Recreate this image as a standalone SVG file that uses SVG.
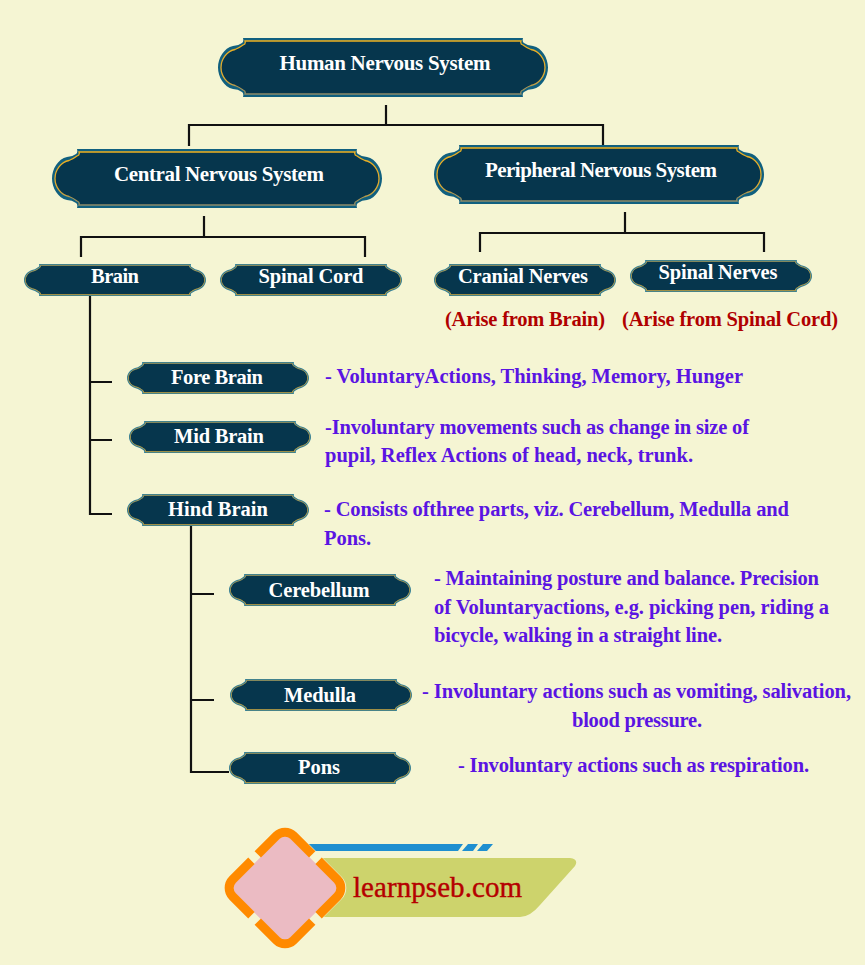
<svg xmlns="http://www.w3.org/2000/svg" width="865" height="965" viewBox="0 0 865 965">
<style>
text{font-family:"Liberation Serif",serif;font-weight:700}
.n{fill:#fff;font-size:21px;text-anchor:middle}
.s{fill:#fff;font-size:20.5px;text-anchor:middle}
.d{fill:#5a14e2;font-size:20.5px}
.r{fill:#b00000;font-size:20.5px}
.c{fill:none;stroke:#111;stroke-width:2.2}
.bo{fill:#10607f}
.bi{fill:#06364d;stroke:url(#goldBig);stroke-width:1.3}
.so{fill:#2b7c98}
.si{fill:#06364d;stroke:url(#goldSmall);stroke-width:1}
</style>
<defs>
<linearGradient id="goldBig" x1="0" y1="0" x2="0" y2="1"><stop offset="0" stop-color="#eeb01f"/><stop offset="0.7" stop-color="#e0aa30"/><stop offset="1" stop-color="#8a8a6a"/></linearGradient>
<linearGradient id="goldSmall" x1="0" y1="0" x2="0" y2="1"><stop offset="0" stop-color="#a0985c"/><stop offset="1" stop-color="#c0a040"/></linearGradient>
<path id="big" d="M25 0H305Q304 4 306 5Q310 8 315 8C324 10 330 20 330 29.500C330 39 324 49 315 51Q310 51 306 54Q304 55 305 59H25Q26 55 24 54Q20 51 15 51C6 49 0 39 0 29.500C0 20 6 10 15 8Q20 8 24 5Q26 4 25 0Z"/>
<path id="bigin" d="M27 3H303Q302 6 305 7Q309 10 313 11.500C321 13 327 21 327 29.500C327 38 321 46 313 47.500Q309 49 305 52Q302 53 303 56H27Q28 53 25 52Q21 49 17 47.500C9 46 3 38 3 29.500C3 21 9 13 17 11.500Q21 10 25 7Q28 6 27 3Z"/>
<path id="small" d="M15 0H167Q166 2.500 168.500 3.500Q171 5.500 174 6C179 7.500 182 12 182 16C182 20 179 24.500 174 26Q171 26.500 168.500 28.500Q166 29.500 167 32H15Q16 29.500 13.500 28.500Q11 26.500 8 26C3 24.500 0 20 0 16C0 12 3 7.500 8 6Q11 5.500 13.500 3.500Q16 2.500 15 0Z"/>
<path id="smallin" d="M16.500 1.300H165.500Q165 3.500 167.500 4.500Q170 6.500 173.500 7.300C178 8.500 180.700 12.500 180.700 16C180.700 19.500 178 23.500 173.500 24.700Q170 25.500 167.500 27.500Q165 28.500 165.500 30.700H16.500Q17 28.500 14.500 27.500Q12 25.500 8.500 24.700C4 23.500 1.300 19.500 1.300 16C1.300 12.500 4 8.500 8.500 7.300Q12 6.500 14.500 4.500Q17 3.500 16.500 1.300Z"/>
</defs>
<rect width="865" height="965" fill="#f5f5d3"/>
<g id="connectors">
<path class="c" d="M386 105V125M189 146V125H603V145"/>
<path class="c" d="M204 216V237M81 257V237H365V257"/>
<path class="c" d="M625 212V233M480 252V233H764V252"/>
<path class="c" d="M90 296V514H112M90 382H112M90 440H112"/>
<path class="c" d="M191 526V772H229M191 594H214M191 700H214"/>
</g>
<g id="human-nervous-system"><use href="#big" x="218" y="38" class="bo"/><use href="#bigin" x="218" y="38" class="bi"/><text class="n" x="385" y="70" textLength="211">Human Nervous System</text></g>
<g id="central-nervous-system"><use href="#big" x="52" y="149" class="bo"/><use href="#bigin" x="52" y="149" class="bi"/><text class="n" x="219" y="181" textLength="210">Central Nervous System</text></g>
<g id="peripheral-nervous-system"><use href="#big" x="434" y="145" class="bo"/><use href="#bigin" x="434" y="145" class="bi"/><text class="n" x="601" y="177" textLength="232">Peripheral Nervous System</text></g>
<g id="brain"><use href="#small" x="24" y="264" class="so"/><use href="#smallin" x="24" y="264" class="si"/><text class="s" x="115" y="283" textLength="48">Brain</text></g>
<g id="spinal-cord"><use href="#small" x="220" y="264" class="so"/><use href="#smallin" x="220" y="264" class="si"/><text class="s" x="311" y="283" textLength="105">Spinal Cord</text></g>
<g id="cranial-nerves"><use href="#small" x="434" y="264" class="so"/><use href="#smallin" x="434" y="264" class="si"/><text class="s" x="523" y="283" textLength="130">Cranial Nerves</text></g>
<g id="spinal-nerves"><use href="#small" x="630" y="260" class="so"/><use href="#smallin" x="630" y="260" class="si"/><text class="s" x="718" y="279" textLength="119">Spinal Nerves</text></g>
<g id="fore-brain"><use href="#small" x="127" y="362" class="so"/><use href="#smallin" x="127" y="362" class="si"/><text class="s" x="217" y="384" textLength="92">Fore Brain</text></g>
<g id="mid-brain"><use href="#small" x="129" y="421" class="so"/><use href="#smallin" x="129" y="421" class="si"/><text class="s" x="219" y="443" textLength="90">Mid Brain</text></g>
<g id="hind-brain"><use href="#small" x="127" y="494" class="so"/><use href="#smallin" x="127" y="494" class="si"/><text class="s" x="218" y="516" textLength="100">Hind Brain</text></g>
<g id="cerebellum"><use href="#small" x="229" y="574" class="so"/><use href="#smallin" x="229" y="574" class="si"/><text class="s" x="319" y="597" textLength="101">Cerebellum</text></g>
<g id="medulla"><use href="#small" x="230" y="679" class="so"/><use href="#smallin" x="230" y="679" class="si"/><text class="s" x="320" y="702" textLength="72">Medulla</text></g>
<g id="pons"><use href="#small" x="229" y="752" class="so"/><use href="#smallin" x="229" y="752" class="si"/><text class="s" x="319" y="774" textLength="42">Pons</text></g>
<text class="r" x="445" y="326" textLength="160">(Arise from Brain)</text>
<text class="r" x="622" y="326" textLength="216">(Arise from Spinal Cord)</text>
<text class="d" x="325" y="383" textLength="418">- VoluntaryActions, Thinking, Memory, Hunger</text>
<text class="d" x="325" y="434" textLength="424">-Involuntary movements such as change in size of</text>
<text class="d" x="325" y="462" textLength="368">pupil, Reflex Actions of head, neck, trunk.</text>
<text class="d" x="324" y="516" textLength="465">- Consists ofthree parts, viz. Cerebellum, Medulla and</text>
<text class="d" x="324" y="545" textLength="47">Pons.</text>
<text class="d" x="434" y="585" textLength="385">- Maintaining posture and balance. Precision</text>
<text class="d" x="434" y="614" textLength="395">of Voluntaryactions, e.g. picking pen, riding a</text>
<text class="d" x="434" y="642" textLength="288">bicycle, walking in a straight line.</text>
<text class="d" x="422" y="698" textLength="429">- Involuntary actions such as vomiting, salivation,</text>
<text class="d" x="572" y="727" textLength="130">blood pressure.</text>
<text class="d" x="458" y="772" textLength="351">- Involuntary actions such as respiration.</text>
<g id="logo">
<path d="M300 844H463L458 851H300ZM468 844H478L473 851H462ZM483 844H493L487 851H477Z" fill="#1f8fd0"/>
<path d="M300 858H570Q579 859 575 866L540 905Q530 917 520 917H300Z" fill="#cdd36c"/>
<g transform="translate(285 888) rotate(45)">
<rect x="-48" y="-48" width="96" height="96" rx="16" fill="#f5f5d3"/>
<rect x="-39" y="-39" width="78" height="78" rx="8" fill="#ebbbc3"/>
<path d="M4.500 -43H31A12 12 0 0 1 43 -31V-4.500M43 4.500V31A12 12 0 0 1 31 43H4.500M-4.500 43H-31A12 12 0 0 1 -43 31V4.500M-43 -4.500V-31A12 12 0 0 1 -31 -43H-4.500" fill="none" stroke="#ff8a00" stroke-width="9"/>
</g>
<text x="353" y="897" fill="#b50000" stroke="#b50000" stroke-width="0.4" style="font-size:29px;font-weight:400" textLength="169">learnpseb.com</text>
</g>
</svg>
